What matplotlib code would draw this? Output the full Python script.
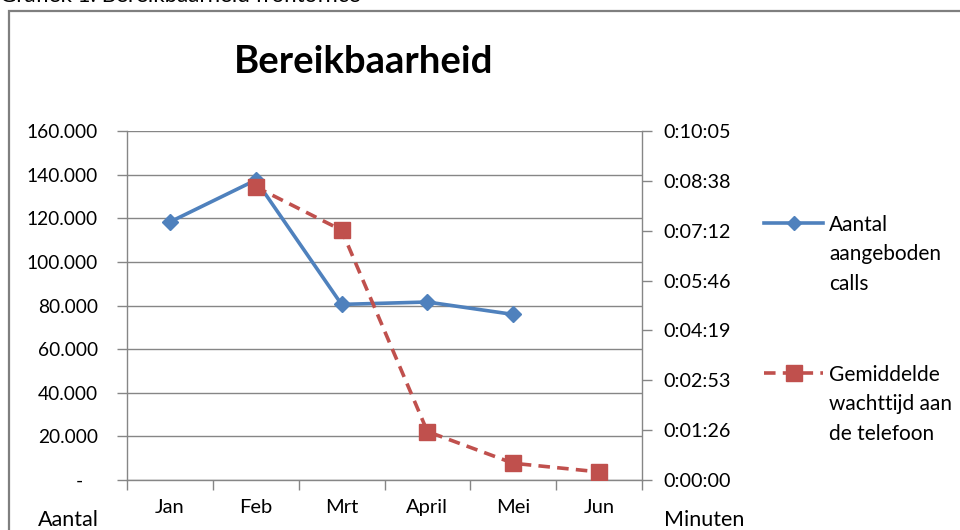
import matplotlib
matplotlib.use("Agg")
import matplotlib.pyplot as plt
from matplotlib.lines import Line2D
from matplotlib.patches import Rectangle
from matplotlib.ticker import FuncFormatter, FixedLocator
import numpy as np

plt.rcParams['font.family'] = ['Lato', 'DejaVu Sans']

months = ["Jan", "Feb", "Mrt", "April", "Mei", "Jun"]
calls = [118300, 137500, 80500, 81600, 75900]          # Aantal aangeboden calls (Jan..Mei)
wait_sec = [None, 508, 433, 84, 29, 14]                 # Gemiddelde wachttijd (seconds)
left_ticks = [0, 20000, 40000, 60000, 80000, 100000, 120000, 140000, 160000]
right_step = 86.4   # seconds (0.001 day)
right_n = 7

BLUE = "#4F81BD"
RED = "#C0504D"
GRID = "#868686"
AXC = "#868686"

fig = plt.figure(figsize=(9.6, 5.3), dpi=100)
W, H = 960, 530

def fx(px):
    return px / W

def fy(py):
    return 1 - py / H

# outer frame of the chart object
fig.add_artist(Rectangle((fx(8.5), fy(700)), 2.0, fy(11) - fy(700),
                         transform=fig.transFigure, fill=False,
                         edgecolor="#7f7f7f", linewidth=1.6, clip_on=False))
# clipped header caption
fig.text(fx(0), fy(2), "Grafiek 1: Bereikbaarheid frontoffice", fontsize=16,
         va="baseline", ha="left", color="#000000")

ax = fig.add_axes([fx(127), fy(480), fx(642) - fx(127), fy(131) - fy(480)])
x = np.arange(len(months))

ax.set_xlim(-0.5, len(months) - 0.5)
ax.set_ylim(0, 160000)
ax.set_yticks(left_ticks)
ax.yaxis.set_major_formatter(FuncFormatter(
    lambda v, p: "-   " if v == 0 else f"{v:,.0f}".replace(",", ".")))
ax.grid(axis="y", color=GRID, linewidth=1.0)
ax.set_axisbelow(True)

ax.set_xticks(x)
ax.set_xticklabels(months)
ax.xaxis.set_minor_locator(FixedLocator(np.arange(-0.5, len(months), 1.0)))
ax.tick_params(axis="x", which="major", length=0, pad=14, labelsize=14.5)
ax.tick_params(axis="x", which="minor", length=7, width=1, color=AXC, direction="out")
ax.tick_params(axis="y", length=7, width=1, color=AXC, pad=14, labelsize=13.8)

for s in ["top", "right"]:
    ax.spines[s].set_visible(False)
for s in ["left", "bottom"]:
    ax.spines[s].set_color(AXC)
    ax.spines[s].set_linewidth(1.0)

ax.plot(x[:len(calls)], calls, color=BLUE, linewidth=2.6, marker="D",
        markersize=8.5, markerfacecolor=BLUE, markeredgecolor=BLUE, zorder=3)

ax2 = ax.twinx()
ax2.set_ylim(0, right_step * right_n)
ax2.set_yticks([right_step * i for i in range(right_n + 1)])

def fmt_time(v, p):
    s = int(round(v))
    return f"{s // 3600}:{(s % 3600) // 60:02d}:{s % 60:02d}"

ax2.yaxis.set_major_formatter(FuncFormatter(fmt_time))
ax2.tick_params(axis="y", length=7, width=1, color=AXC, pad=8.5, labelsize=14.2)
for s in ["top", "left", "bottom"]:
    ax2.spines[s].set_visible(False)
ax2.spines["right"].set_color(AXC)
ax2.spines["right"].set_linewidth(1.0)

wx = [xi for xi, w in zip(x, wait_sec) if w is not None]
wy = [w for w in wait_sec if w is not None]
ax2.plot(wx, wy, color=RED, linewidth=2.6, linestyle=(0, (3.2, 2.0)),
         marker="s", markersize=12, markerfacecolor=RED, markeredgecolor=RED, zorder=3)

# title and axis titles
fig.text(fx(364), fy(62), "Bereikbaarheid", fontsize=27.5, fontweight="bold",
         ha="center", va="center")
fig.text(fx(68), fy(520), "Aantal", fontsize=15.5, ha="center", va="center")
fig.text(fx(704), fy(520), "Minuten", fontsize=15.5, ha="center", va="center")

# legend (drawn manually to mirror the layout)
def legend_entry(y_px, color, ls, marker, ms, label):
    xs = [fx(764), fx(793.5), fx(823)]
    ys = [fy(y_px)] * 3
    fig.add_artist(Line2D(xs, ys, transform=fig.transFigure, color=color,
                          linewidth=2.6, linestyle=ls))
    fig.add_artist(Line2D([xs[1]], [ys[1]], transform=fig.transFigure, color=color,
                          marker=marker, markersize=ms, linestyle="none"))
    fig.text(fx(829), fy(y_px - 8), label, fontsize=15, ha="left", va="top",
             linespacing=1.58)

legend_entry(223, BLUE, "-", "D", 7, "Aantal\naangeboden\ncalls")
legend_entry(373, RED, (0, (3.2, 2.0)), "s", 11, "Gemiddelde\nwachttijd aan\nde telefoon")

fig.savefig("out.png", dpi=100)
